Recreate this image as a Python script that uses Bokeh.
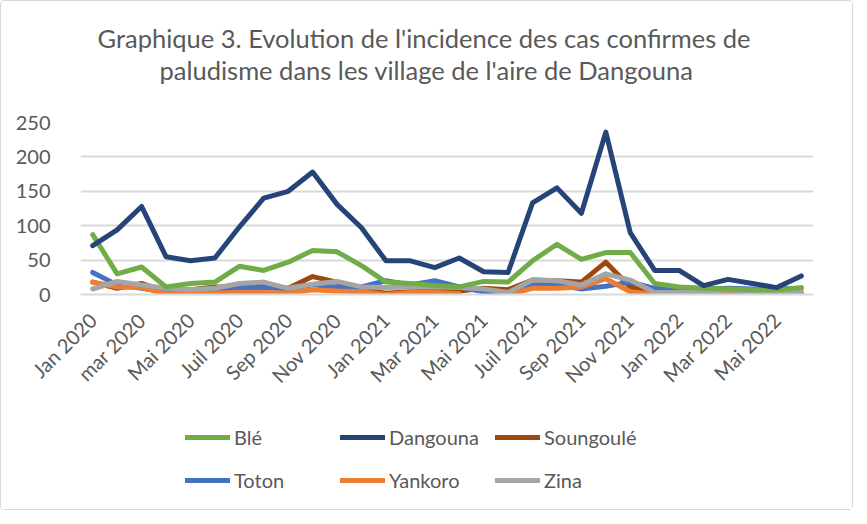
import math
from bokeh.plotting import figure
from bokeh.layouts import column
from bokeh.models import ColumnDataSource, Legend, LegendItem, Title, FixedTicker
from bokeh.embed import file_html
from bokeh.resources import INLINE

months = ["Jan 2020", "Fev 2020", "mar 2020", "Avr 2020", "Mai 2020", "Juin 2020",
          "Juil 2020", "Aou 2020", "Sep 2020", "Oct 2020", "Nov 2020", "Dec 2020",
          "Jan 2021", "Fev 2021", "Mar 2021", "Avr 2021", "Mai 2021", "Juin 2021",
          "Juil 2021", "Aou 2021", "Sep 2021", "Oct 2021", "Nov 2021", "Dec 2021",
          "Jan 2022", "Fev 2022", "Mar 2022", "Avr 2022", "Mai 2022", "Juin 2022"]

ble = [87, 30, 40, 11, 16, 18, 41, 35, 47, 64, 62, 42, 18, 16, 13, 11, 19, 18,
       49, 73, 51, 61, 61, 16, 11, 9, 8, 7, 7, 10]
dangouna = [71, 94, 128, 55, 49, 53, 98, 140, 150, 178, 131, 97, 49, 49, 39, 53, 33, 32,
            133, 155, 118, 236, 90, 35, 35, 13, 22, 16, 10, 27]
soungoule = [18, 9, 16, 4, 7, 11, 11, 14, 9, 26, 18, 7, 2, 4, 5, 5, 9, 7,
             21, 20, 18, 47, 11, 4, 3, 3, 3, 3, 3, 3]
toton = [32, 14, 9, 4, 7, 8, 9, 10, 8, 14, 11, 11, 20, 14, 20, 11, 4, 1,
         16, 14, 8, 12, 18, 9, 9, 8, 9, 8, 8, 9]
yankoro = [18, 11, 10, 1, 1, 2, 3, 3, 2, 7, 5, 4, 0, 3, 3, 1, float("nan"), 0,
           9, 9, 11, 23, 4, 0, 0, 0, 2, 0, 1, 1]
zina = [8, 19, 14, 9, 7, 9, 16, 18, 9, 15, 19, 11, 10, 11, 11, 10, 8, 3,
        21, 20, 14, 30, 21, 3, 3, 3, 7, 3, 3, 3]

series = [("Blé", ble, "#70AD47"), ("Dangouna", dangouna, "#264478"),
          ("Soungoulé", soungoule, "#9E480E"), ("Toton", toton, "#4472C4"),
          ("Yankoro", yankoro, "#ED7D31"), ("Zina", zina, "#A5A5A5")]
draw_order = ["Soungoulé", "Toton", "Yankoro", "Zina", "Blé", "Dangouna"]
y_ticks = [0, 50, 100, 150, 200, 250]

FONT = "Lato"
TXT = "#595959"
W = 851
H_MAIN = 410
H_LEG = 98

x = list(range(len(months)))

p = figure(frame_width=733, frame_height=172, output_backend="svg", toolbar_location=None,
           x_range=(-0.5, len(months) - 0.5), y_range=(0, 250),
           min_border_left=79, min_border_right=39, min_border_top=121,
           min_border_bottom=H_MAIN - 121 - 172)
p.title = None

spacer_top = Title(text=" ", text_font=FONT, text_font_size="30px", standoff=0)
t2 = Title(text="paludisme dans les village de l'aire de Dangouna", align="left",
           text_font=FONT, text_font_size="25.5px", text_color=TXT, text_font_style="normal",
           standoff=0, offset=79)
t1 = Title(text="Graphique 3. Evolution de l'incidence des cas confirmes de", align="left",
           text_font=FONT, text_font_size="25.5px", text_color=TXT, text_font_style="normal",
           standoff=0, offset=17)
p.add_layout(spacer_top, "above")
p.add_layout(t2, "above")
p.add_layout(t1, "above")

src = ColumnDataSource(dict(x=x, **{f"s{i}": s[1] for i, s in enumerate(series)}))
for name in draw_order:
    i = [s[0] for s in series].index(name)
    p.line("x", f"s{i}", source=src, line_color=series[i][2], line_width=5,
           line_join="round", line_cap="round")

p.xaxis.ticker = FixedTicker(ticks=list(range(0, len(months), 2)))
p.xaxis.major_label_overrides = {i: months[i] for i in range(len(months))}
p.xaxis.major_label_orientation = math.pi / 4
p.xaxis.major_label_text_font = FONT
p.xaxis.major_label_text_font_size = "20px"
p.xaxis.major_label_text_color = TXT
p.xaxis.major_tick_line_color = None
p.xaxis.minor_tick_line_color = None
p.xaxis.axis_line_color = "#D9D9D9"
p.xaxis.axis_line_width = 2
p.xaxis.major_label_standoff = 16

p.yaxis.ticker = FixedTicker(ticks=y_ticks)
p.yaxis.major_label_text_font = FONT
p.yaxis.major_label_text_font_size = "20px"
p.yaxis.major_label_text_color = TXT
p.yaxis.axis_line_color = None
p.yaxis.major_tick_line_color = None
p.yaxis.minor_tick_line_color = None
p.yaxis.major_label_standoff = 24

p.xgrid.grid_line_color = None
p.ygrid.grid_line_color = "#D9D9D9"
p.ygrid.grid_line_width = 2
p.outline_line_color = None

# legend figure (its frame is aligned with the main frame by the column layout)
q = figure(width=W, height=H_LEG, output_backend="svg", toolbar_location=None,
           x_range=(0, 1), y_range=(0, 1), x_axis_type=None, y_axis_type=None,
           min_border_left=0, min_border_right=0, min_border_top=0, min_border_bottom=0)
q.title = None
q.xgrid.grid_line_color = None
q.ygrid.grid_line_color = None
q.outline_line_color = None
dummy = {}
for s in series:
    dummy[s[0]] = q.line(x=[-5, -4], y=[-5, -5], line_color=s[2], line_width=5,
                         line_cap="round")

for row, ypos in ((series[:3], 60), (series[3:], 17)):
    items = [LegendItem(label=s[0], renderers=[dummy[s[0]]]) for s in row]
    lg = Legend(items=items, orientation="horizontal",
                label_text_font=FONT, label_text_font_size="20px", label_text_color=TXT,
                glyph_width=45, glyph_height=20, label_height=24, label_width=100,
                label_standoff=4, spacing=6,
                border_line_color=None, background_fill_alpha=0,
                location=(105, ypos), margin=0, padding=0)
    q.add_layout(lg, "center")

layout = column(p, q, spacing=0)
layout.styles = {"border": "1px solid #D9D9D9", "border-radius": "4px"}

open("out.html", "w").write(file_html(layout, INLINE))
